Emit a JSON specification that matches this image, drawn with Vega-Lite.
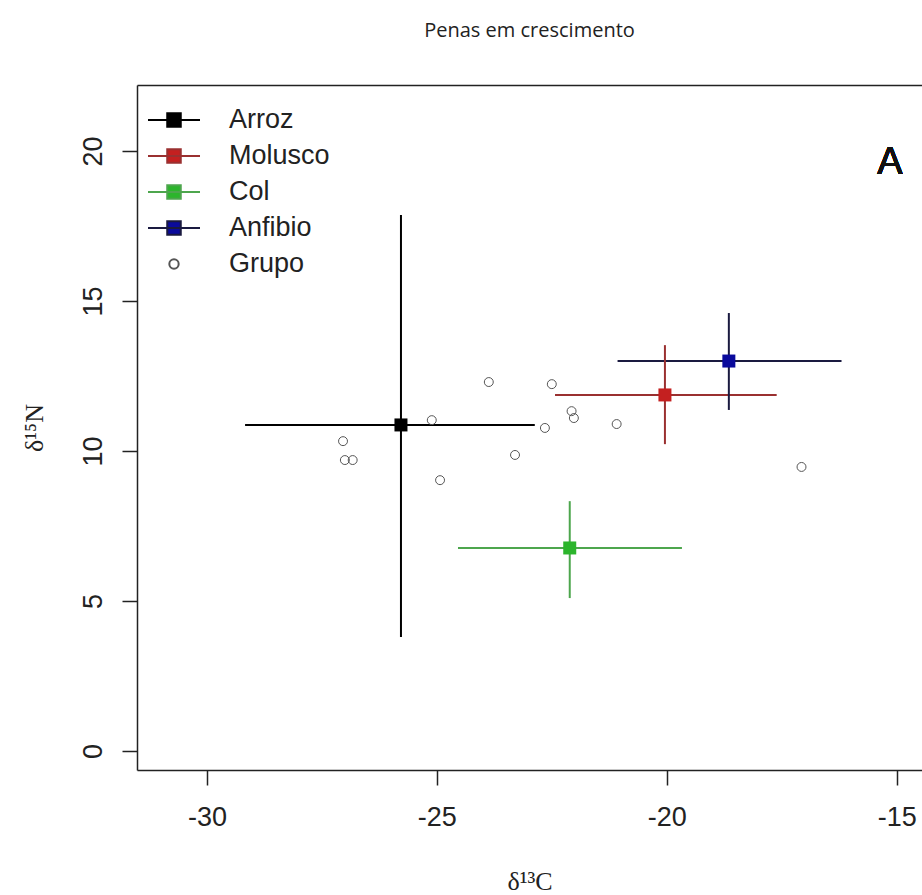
{
  "$schema": "https://vega.github.io/schema/vega-lite/v6.json",
  "width": 785,
  "height": 685,
  "autosize": {"type": "none"},
  "padding": {"left": 137, "top": 85, "right": 0, "bottom": 125},
  "background": "white",
  "config": {
    "view": {"stroke": null},
    "axis": {"grid": false, "domainColor": "#222", "domainWidth": 1.5, "tickColor": "#222", "tickWidth": 1.5, "tickSize": 15,
             "labelFont": "Liberation Sans", "labelFontSize": 27, "labelColor": "#222",
             "titleFont": "Liberation Serif", "titleFontSize": 26, "titleFontWeight": "normal", "titleColor": "#222"}
  },
  "title": {"text": "Penas em crescimento", "font": "Open Sans", "fontSize": 20, "fontWeight": "normal", "color": "#222", "anchor": "middle", "offset": 44},
  "data": {"values": [
    {"kind": "mean", "series": "Arroz", "x": -25.78, "y": 10.87, "xlo": -29.17, "xhi": -22.87, "ylo": 3.8, "yhi": 17.87},
    {"kind": "mean", "series": "Molusco", "x": -20.04, "y": 11.87, "xlo": -22.43, "xhi": -17.61, "ylo": 10.23, "yhi": 13.53},
    {"kind": "mean", "series": "Col", "x": -22.11, "y": 6.77, "xlo": -24.54, "xhi": -19.67, "ylo": 5.1, "yhi": 8.33},
    {"kind": "mean", "series": "Anfibio", "x": -18.65, "y": 13.0, "xlo": -21.07, "xhi": -16.2, "ylo": 11.37, "yhi": 14.6},
    {"kind": "point", "series": "Grupo", "x": -27.04, "y": 10.33},
    {"kind": "point", "series": "Grupo", "x": -27.0, "y": 9.7},
    {"kind": "point", "series": "Grupo", "x": -26.83, "y": 9.7},
    {"kind": "point", "series": "Grupo", "x": -25.11, "y": 11.03},
    {"kind": "point", "series": "Grupo", "x": -24.93, "y": 9.03},
    {"kind": "point", "series": "Grupo", "x": -23.87, "y": 12.3},
    {"kind": "point", "series": "Grupo", "x": -23.3, "y": 9.87},
    {"kind": "point", "series": "Grupo", "x": -22.5, "y": 12.23},
    {"kind": "point", "series": "Grupo", "x": -22.65, "y": 10.77},
    {"kind": "point", "series": "Grupo", "x": -22.07, "y": 11.33},
    {"kind": "point", "series": "Grupo", "x": -22.02, "y": 11.1},
    {"kind": "point", "series": "Grupo", "x": -21.09, "y": 10.9},
    {"kind": "point", "series": "Grupo", "x": -17.07, "y": 9.47}
  ]},
  "resolve": {"axis": {"x": "independent"}},
  "layer": [
    {
      "mark": {"type": "point", "opacity": 0, "filled": true},
      "encoding": {
        "x": {"field": "x", "type": "quantitative", "scale": {"domain": [-31.52, -14.45], "nice": false, "zero": false},
              "axis": {"orient": "bottom", "values": [-30, -25, -20, -15], "labelExpr": "toString(datum.value)", "title": "δ¹³C", "labelPadding": 19, "titlePadding": 38}},
        "y": {"field": "y", "type": "quantitative", "scale": {"domain": [-0.63, 22.2], "nice": false, "zero": false},
              "axis": {"values": [0, 5, 10, 15, 20], "labelExpr": "toString(datum.value)", "labelAngle": 270, "labelAlign": "center", "labelBaseline": "alphabetic", "labelPadding": 21, "title": "δ¹⁵N", "titlePadding": 32}},
        "shape": {"field": "series", "type": "nominal",
                  "scale": {"domain": ["Arroz", "Molusco", "Col", "Anfibio", "Grupo"],
                            "range": ["M-1,0L1,0M-0.26,-0.26L0.26,-0.26L0.26,0.26L-0.26,0.26Z", "M-1,0L1,0M-0.26,-0.26L0.26,-0.26L0.26,0.26L-0.26,0.26Z", "M-1,0L1,0M-0.26,-0.26L0.26,-0.26L0.26,0.26L-0.26,0.26Z", "M-1,0L1,0M-0.26,-0.26L0.26,-0.26L0.26,0.26L-0.26,0.26Z", "M-0.18,0A0.18,0.18 0 1,1 0.18,0A0.18,0.18 0 1,1 -0.18,0Z"]},
                  "legend": {"title": null, "orient": "none", "legendX": 10, "legendY": 17, "symbolSize": 2704, "symbolStrokeWidth": 2, "symbolOpacity": 1,
                             "labelFont": "Liberation Sans", "labelFontSize": 27, "labelColor": "#222", "labelOffset": 28, "rowPadding": 0, "clipHeight": 36}},
        "fill": {"field": "series", "type": "nominal",
                 "scale": {"domain": ["Arroz", "Molusco", "Col", "Anfibio", "Grupo"], "range": ["#000000", "#c42020", "#2cb52c", "#0a0a9c", "transparent"]}},
        "stroke": {"field": "series", "type": "nominal",
                   "scale": {"domain": ["Arroz", "Molusco", "Col", "Anfibio", "Grupo"], "range": ["#000000", "#9a3030", "#4da64d", "#1a1a40", "#555555"]}}
      }
    },
    {
      "transform": [{"filter": "datum.kind === 'mean'"}],
      "mark": {"type": "rule", "strokeWidth": 2},
      "encoding": {
        "x": {"field": "xlo", "type": "quantitative", "axis": null},
        "x2": {"field": "xhi"},
        "y": {"field": "y", "type": "quantitative"},
        "stroke": {"field": "series", "type": "nominal", "legend": null}
      }
    },
    {
      "transform": [{"filter": "datum.kind === 'mean'"}],
      "mark": {"type": "rule", "strokeWidth": 2},
      "encoding": {
        "x": {"field": "x", "type": "quantitative", "axis": null},
        "y": {"field": "ylo", "type": "quantitative"},
        "y2": {"field": "yhi"},
        "stroke": {"field": "series", "type": "nominal", "legend": null}
      }
    },
    {
      "transform": [{"filter": "datum.kind === 'mean'"}],
      "mark": {"type": "point", "shape": "square", "size": 169, "filled": true, "opacity": 1, "strokeWidth": 0},
      "encoding": {
        "x": {"field": "x", "type": "quantitative", "axis": null},
        "y": {"field": "y", "type": "quantitative"},
        "fill": {"field": "series", "type": "nominal", "legend": null}
      }
    },
    {
      "transform": [{"filter": "datum.kind === 'point'"}],
      "mark": {"type": "point", "shape": "circle", "size": 80, "filled": false, "stroke": "#555555", "strokeWidth": 1, "opacity": 1},
      "encoding": {
        "x": {"field": "x", "type": "quantitative", "axis": {"orient": "top", "labels": false, "ticks": false, "title": null, "domain": true}},
        "y": {"field": "y", "type": "quantitative"}
      }
    },
    {
      "mark": {"type": "text", "text": "A", "font": "Liberation Sans", "fontSize": 38, "color": "#111", "align": "center", "baseline": "middle"},
      "encoding": {
        "x": {"datum": -15.15, "type": "quantitative", "axis": null},
        "y": {"datum": 19.6, "type": "quantitative"}
      }
    }
  ]
}
